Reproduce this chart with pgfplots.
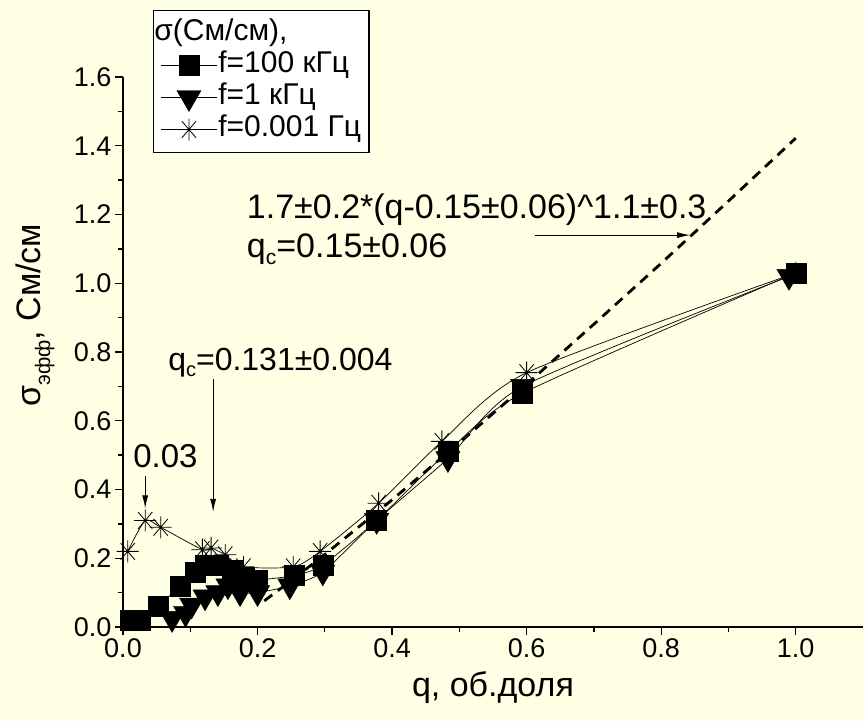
\documentclass[border=0pt]{standalone}
\usepackage{fontspec}
\setmainfont{Liberation Sans}
\usepackage{pgfplots}
\pgfplotsset{compat=1.18}
\usetikzlibrary{arrows.meta}
\definecolor{bgc}{RGB}{255,255,228}

% eight-armed star like Origin's
\pgfdeclareplotmark{star8}{%
  \pgfpathmoveto{\pgfpoint{0pt}{\pgfplotmarksize}}%
  \pgfpathlineto{\pgfpoint{0pt}{-\pgfplotmarksize}}%
  \pgfpathmoveto{\pgfpoint{\pgfplotmarksize}{0pt}}%
  \pgfpathlineto{\pgfpoint{-\pgfplotmarksize}{0pt}}%
  \pgfpathmoveto{\pgfpoint{0.65\pgfplotmarksize}{0.76\pgfplotmarksize}}%
  \pgfpathlineto{\pgfpoint{-0.65\pgfplotmarksize}{-0.76\pgfplotmarksize}}%
  \pgfpathmoveto{\pgfpoint{0.65\pgfplotmarksize}{-0.76\pgfplotmarksize}}%
  \pgfpathlineto{\pgfpoint{-0.65\pgfplotmarksize}{0.76\pgfplotmarksize}}%
  \pgfusepathqstroke}

\newcommand{\fs}[1]{\fontsize{#1}{#1}\selectfont}

\begin{document}
\begin{tikzpicture}[x=1pt,y=1pt]
\path[use as bounding box] (0,0) rectangle (865,721);
\fill[bgc] (0,0) rectangle (865,721);
\begin{axis}[
  at={(123pt,94pt)}, anchor=south west,
  scale only axis, width=740pt, height=550pt,
  xmin=0, xmax=1.1, ymin=0, ymax=1.6,
  enlargelimits=false, clip=false,
  axis x line=bottom, axis y line=left,
  axis line style={-, line width=1.3pt},
  tick align=outside,
  major tick length=8pt, minor tick length=5pt,
  every tick/.style={black, line width=1.3pt},
  xtick={0,0.2,...,1.0},
  minor xtick={0.1,0.3,0.5,0.7,0.9},
  ytick={0,0.2,...,1.6},
  minor ytick={0.1,0.3,...,1.5},
  /pgf/number format/.cd, fixed, fixed zerofill, precision=1, assume math mode=true,
  /pgfplots/.cd,
  ticklabel style={font=\fs{27}},
  xlabel={q, об.доля},
  ylabel={σ\raisebox{-0.55ex}{\fs{21}эфф}, См/см},
  xlabel style={font=\fs{34}, at={(axis description cs:0.5,-0.127)}, anchor=base},
  ylabel style={font=\fs{34}, at={(axis description cs:-0.119,0.567)}, anchor=center, rotate=0},
  legend style={at={(axis description cs:0.0405,1.122)}, anchor=north west,
    draw=black, line width=1.2pt, fill=white, font=\fs{30},
    inner sep=7pt, row sep=0pt,
    nodes={inner sep=1pt, text height=22pt, text depth=8pt}},
  legend cell align=left,
  legend image code/.code={\draw[#1, line width=0.8pt, mark repeat=2, mark phase=2]
    plot coordinates {(-5pt,0pt) (23pt,0pt) (51pt,0pt)};},
]
\addlegendimage{empty legend}
\addlegendentry{\hspace*{-64pt}σ(См/см),}

\addplot[black, line width=0.7pt, smooth, tension=0.4, mark=square*,
  mark size=10pt, mark options={fill=black, line width=0.4pt}] coordinates {
  (0.010,0.020) (0.025,0.020) (0.052,0.060) (0.085,0.120) (0.107,0.160)
  (0.122,0.180) (0.141,0.180) (0.162,0.165) (0.180,0.145) (0.200,0.137)
  (0.255,0.150) (0.297,0.180) (0.377,0.310) (0.483,0.510) (0.594,0.680)
  (1.000,1.030)};
\addlegendentry{f=100 кГц}

\addplot[black, line width=0.7pt, smooth, tension=0.4, mark=triangle*,
  mark size=14pt, mark options={fill=black, line width=0.4pt, rotate=180}] coordinates {
  (0.073,0.025) (0.093,0.040) (0.102,0.064) (0.122,0.088) (0.141,0.100)
  (0.156,0.120) (0.174,0.100) (0.200,0.100) (0.248,0.120) (0.297,0.160)
  (0.377,0.310) (0.483,0.490) (0.594,0.700) (0.990,1.020)};
\addlegendentry{f=1 кГц}

\addplot[black, line width=0.7pt, smooth, tension=0.4, mark=star8,
  mark size=11pt, mark options={line width=0.8pt}] coordinates {
  (0.007,0.220) (0.033,0.310) (0.056,0.290) (0.118,0.225) (0.131,0.230)
  (0.152,0.210) (0.179,0.175) (0.253,0.175) (0.293,0.220) (0.380,0.360)
  (0.474,0.540) (0.600,0.740) (1.000,1.030)};
\addlegendentry{f=0.001 Гц}

% fit curve
\addplot[black, line width=2.8pt, dash pattern=on 10pt off 7pt, forget plot] coordinates {
  (0.21,0.076) (0.25,0.135) (0.30,0.211) (0.40,0.370)
  (0.50,0.536) (0.60,0.706) (0.70,0.881) (0.80,1.058) (0.90,1.239)
  (1.00,1.422)};

% annotations
\node[anchor=base west, font=\fs{34}, inner sep=0pt] at (axis cs:0.184,1.189) {1.7±0.2*(q-0.15±0.06)\^{}1.1±0.3};
\node[anchor=base west, font=\fs{34}, inner sep=0pt] at (axis cs:0.184,1.076) {q\raisebox{-0.4ex}{\fs{21}c}=0.15±0.06};
\node[anchor=base west, font=\fs{32}, inner sep=0pt] at (axis cs:0.067,0.747) {q\raisebox{-0.4ex}{\fs{20}c}=0.131±0.004};
\node[anchor=base west, font=\fs{33}, inner sep=0pt] at (axis cs:0.015,0.465) {0.03};
\draw[line width=0.9pt, -{Latex[length=13pt,width=6pt]}] (axis cs:0.612,1.14) -- (axis cs:0.843,1.14);
\draw[line width=0.9pt, -{Latex[length=13pt,width=6pt]}] (axis cs:0.134,0.72) -- (axis cs:0.134,0.335);
\draw[line width=0.9pt, -{Latex[length=13pt,width=6pt]}] (axis cs:0.033,0.44) -- (axis cs:0.033,0.345);
\end{axis}
\end{tikzpicture}
\end{document}
